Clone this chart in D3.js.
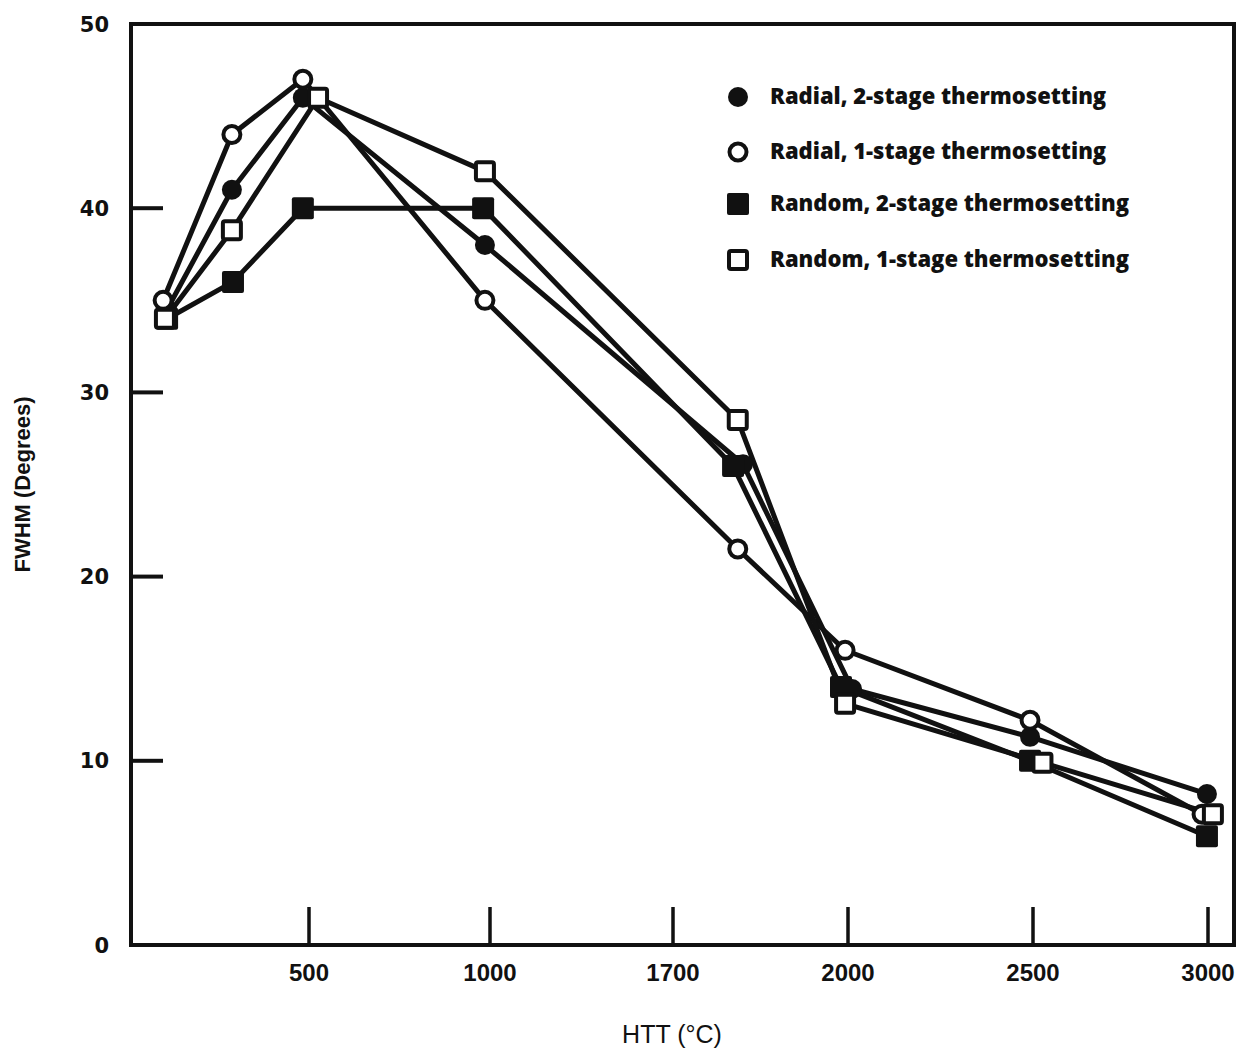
<!DOCTYPE html>
<html>
<head>
<meta charset="utf-8">
<script src="https://cdn.jsdelivr.net/npm/d3@7"></script>
<style>
  body { margin: 0; background: #fff; }
  svg { display: block; }
  text { font-family: "DejaVu Sans", sans-serif; font-weight: bold; fill: #111; }
  .xlab { font-family: "Liberation Sans Narrow", "Liberation Sans", sans-serif; }
</style>
</head>
<body>
<div id="chart"></div>
<script>
// x tick labels (HTT, deg C) – the original axis is not linear, ticks are equally spaced
const xTicks = [500, 1000, 1700, 2000, 2500, 3000];
const yTicks = [0, 10, 20, 30, 40, 50];

// series
const radial2Htt  = [108, 287, 483, 986, 1820, 2011, 2492, 2997];
const radial2Fwhm = [34.5, 41, 46, 38, 26.1, 13.9, 11.3, 8.2];

const radial1Htt  = [97, 287, 483, 986, 1811, 1995, 2492, 2983];
const radial1Fwhm = [35, 44, 47, 35, 21.5, 16, 12.2, 7.1];

const random2Htt  = [108, 290, 483, 981, 1803, 1988, 2492, 2997];
const random2Fwhm = [34, 36, 40, 40, 26, 14, 10, 5.9];

const random1Htt  = [102, 287, 525, 986, 1811, 1995, 2527, 3014];
const random1Fwhm = [34, 38.8, 46, 42, 28.5, 13.1, 9.9, 7.1];

const seriesNames = [
  "Radial, 2-stage thermosetting",
  "Radial, 1-stage thermosetting",
  "Random, 2-stage thermosetting",
  "Random, 1-stage thermosetting"
];
const seriesSymbols = ["circle", "circle", "square", "square"];
const seriesFilled = [true, false, true, false];

const series = [
  { htt: radial2Htt, fwhm: radial2Fwhm },
  { htt: radial1Htt, fwhm: radial1Fwhm },
  { htt: random2Htt, fwhm: random2Fwhm },
  { htt: random1Htt, fwhm: random1Fwhm }
].map((s, i) => ({
  name: seriesNames[i],
  symbol: seriesSymbols[i],
  filled: seriesFilled[i],
  points: s.htt.map((h, j) => ({ htt: h, fwhm: s.fwhm[j] }))
}));

const W = 1251, H = 1056;
const margin = { top: 24, right: 17, bottom: 111, left: 131 };
const width = W - margin.left - margin.right;
const height = H - margin.top - margin.bottom;

const svg = d3.select("#chart").append("svg")
  .attr("width", W)
  .attr("height", H);

const g = svg.append("g")
  .attr("transform", `translate(${margin.left},${margin.top})`);

// piecewise scale: equally spaced ticks
const x = d3.scaleLinear()
  .domain(xTicks)
  .range([178, 359, 542, 717, 902, 1077]);

const y = d3.scaleLinear()
  .domain([0, 50])
  .range([height, 0]);

// frame
g.append("rect")
  .attr("width", width)
  .attr("height", height)
  .attr("fill", "none")
  .attr("stroke", "#111")
  .attr("stroke-width", 4);

// y ticks (inside, from the left)
g.selectAll("line.ytick")
  .data(yTicks.filter(d => d > 0 && d < 50))
  .enter()
  .append("line")
  .attr("class", "ytick")
  .attr("x1", 0)
  .attr("x2", 32)
  .attr("y1", d => y(d))
  .attr("y2", d => y(d))
  .attr("stroke", "#111")
  .attr("stroke-width", 4);

g.selectAll("text.ylab")
  .data(yTicks)
  .enter()
  .append("text")
  .attr("class", "ylab")
  .attr("x", -22)
  .attr("y", d => y(d))
  .attr("dy", "0.36em")
  .attr("text-anchor", "end")
  .style("font-size", "21px")
  .text(d => d);

// x ticks (inside, from the bottom)
g.selectAll("line.xtick")
  .data(xTicks)
  .enter()
  .append("line")
  .attr("class", "xtick")
  .attr("x1", d => x(d))
  .attr("x2", d => x(d))
  .attr("y1", height)
  .attr("y2", height - 38)
  .attr("stroke", "#111")
  .attr("stroke-width", 3.5);

g.selectAll("text.xlab")
  .data(xTicks)
  .enter()
  .append("text")
  .attr("class", "xlab")
  .attr("x", d => x(d))
  .attr("y", height + 36)
  .attr("text-anchor", "middle")
  .style("font-size", "24px")
  .text(d => d);

// axis titles
g.append("text")
  .attr("class", "xlab")
  .attr("x", 541)
  .attr("y", height + 98)
  .attr("text-anchor", "middle")
  .style("font-size", "25px")
  .style("font-weight", "normal")
  .text("HTT (°C)");

svg.append("text")
  .attr("transform", `translate(30,${margin.top + height / 2}) rotate(-90)`)
  .attr("text-anchor", "middle")
  .style("font-size", "22px")
  .style("font-family", "'Liberation Sans', sans-serif")
  .text("FWHM (Degrees)");

// lines
const line = d3.line()
  .x(d => x(d.htt))
  .y(d => y(d.fwhm));

g.selectAll("path.series")
  .data(series)
  .enter()
  .append("path")
  .attr("class", "series")
  .attr("d", d => line(d.points))
  .attr("fill", "none")
  .attr("stroke", "#111")
  .attr("stroke-width", 5)
  .attr("stroke-linejoin", "round");

// markers
function drawMarker(sel, s) {
  if (s.symbol === "circle") {
    sel.append("circle")
      .attr("r", s.filled ? 10 : 8.5)
      .attr("fill", s.filled ? "#111" : "#fff")
      .attr("stroke", "#111")
      .attr("stroke-width", s.filled ? 0 : 4);
  } else {
    const a = s.filled ? 22 : 18;
    sel.append("rect")
      .attr("x", -a / 2)
      .attr("y", -a / 2)
      .attr("width", a)
      .attr("height", a)
      .attr("rx", 2)
      .attr("fill", s.filled ? "#111" : "#fff")
      .attr("stroke", "#111")
      .attr("stroke-width", s.filled ? 0 : 4);
  }
}

series.forEach(s => {
  g.selectAll(null)
    .data(s.points)
    .enter()
    .append("g")
    .attr("transform", d => `translate(${x(d.htt)},${y(d.fwhm)})`)
    .each(function() { drawMarker(d3.select(this), s); });
});

// legend
const legend = g.append("g")
  .attr("transform", "translate(607,73)");

const rows = legend.selectAll("g.row")
  .data(series)
  .enter()
  .append("g")
  .attr("class", "row")
  .attr("transform", (d, i) => `translate(0,${[0, 55, 107, 163][i]})`);

rows.each(function(s) { drawMarker(d3.select(this), s); });

rows.append("text")
  .attr("x", 32)
  .attr("dy", "0.32em")
  .style("font-size", "22px")
  .style("font-family", "'Open Sans', 'DejaVu Sans', sans-serif")
  .style("font-weight", "800")
  .text(d => d.name);
</script>
</body>
</html>
